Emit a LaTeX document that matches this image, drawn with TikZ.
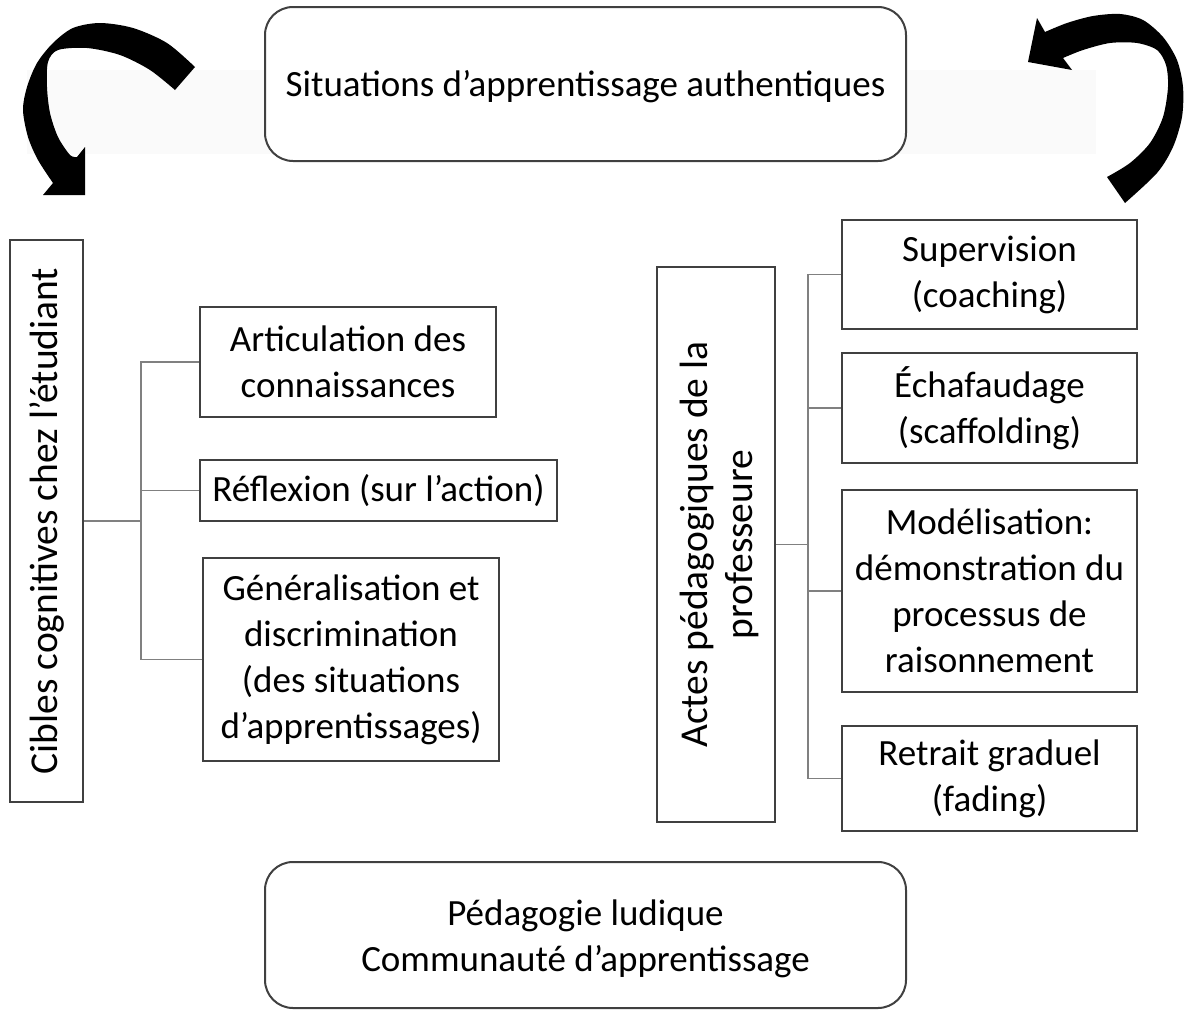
\documentclass[tikz,border=0pt]{standalone}
\usepackage{fontspec}
\setmainfont{Carlito}
\newcommand{\myfs}{\fontsize{37}{46}\selectfont}
\newcommand{\myrfs}{\fontsize{39.5}{45}\selectfont}
\definecolor{boxgray}{HTML}{404040}
\definecolor{linegray}{HTML}{808080}
\definecolor{bandgray}{HTML}{FAFAFA}
\begin{document}
\begin{tikzpicture}[x=1pt,y=-1pt,
  box/.style={draw=boxgray, line width=2pt, fill=white, inner sep=0pt, align=center, font=\myfs},
  rbox/.style={box, rounded corners=28pt},
  conn/.style={draw=linegray, line width=1.6pt},
  rtxt/.style={inner sep=0pt, align=center, font=\myrfs, rotate=90}]
\useasboundingbox (0,0) rectangle (1186,1012);
% faint band
\fill[bandgray] (27,70) rectangle (1096,154);
% curved arrows
\fill[black] plot[smooth] coordinates {(195,67) (167,43) (133,28) (100,23) (73,28) (53,43) (37,63) (27,87) (23,110) (28,137) (38,160) (53,183)}
  -- (43,195) -- (85,195) -- (85,147) -- (77,157)
  -- plot[smooth] coordinates {(77,157) (70,155) (58,137) (50,113) (47,87) (48,62) (58,50) (87,48) (120,55) (150,70) (175,90)} -- cycle;
\fill[black] plot[smooth] coordinates {(1125,203) (1157,173) (1173,147) (1182,117) (1183,87) (1177,60) (1163,37) (1143,20) (1120,14) (1093,16) (1067,23) (1045,32)}
  -- (1037,18) -- (1028,62) -- (1072,70) -- (1063,58)
  -- plot[smooth] coordinates {(1063,58) (1083,50) (1110,43) (1137,43) (1157,50) (1166,65) (1168,87) (1163,117) (1150,143) (1130,163) (1107,177)} -- cycle;
% top and bottom
\node[rbox, minimum width=641pt, minimum height=154pt] (top) at (585.5,84) {\raisebox{-3pt}[\height][\depth]{Situations d’apprentissage authentiques}};
\node[rbox, minimum width=641pt, minimum height=146pt] (bot) at (585.5,935) {\raisebox{-4pt}[\height][\depth]{\begin{tabular}{@{}c@{}}Pédagogie ludique\\Communauté d’apprentissage\end{tabular}}};
% left group
\node[box, minimum width=73pt, minimum height=562pt] (cib) at (46.5,521) {};
\node[rtxt] (cibt) at (cib.center) {Cibles cognitives chez l’étudiant};
\node[box, minimum width=296pt, minimum height=110pt] (art) at (348,362) {Articulation des\\connaissances};
\node[box, minimum width=357pt, minimum height=61pt] (ref) at (378.5,490.5) {Réflexion (sur l’action)};
\node[box, minimum width=296pt, minimum height=203pt] (gen) at (351,659.5) {Généralisation et\\discrimination\\(des situations\\d’apprentissages)};
\coordinate (tl) at (141,521);
\draw[conn] (cib.east) -- (tl |- cib.east);
\draw[conn] (art.west) -| (tl |- cib.east);
\draw[conn] (ref.west) -| (tl |- cib.east);
\draw[conn] (gen.west) -| (tl |- cib.east);
% right group
\node[box, minimum width=118pt, minimum height=555pt] (act) at (716,544.5) {};
\node[rtxt] (actt) at ([xshift=3pt]act.center) {Actes pédagogiques de la\\professeure};
\node[box, minimum width=295pt, minimum height=109pt] (sup) at (989.5,274.5) {Supervision\\(coaching)};
\node[box, minimum width=295pt, minimum height=110pt] (ech) at (989.5,408) {Échafaudage\\(scaffolding)};
\node[box, minimum width=295pt, minimum height=202pt] (mod) at (989.5,591) {Modélisation:\\démonstration du\\processus de\\raisonnement};
\node[box, minimum width=295pt, minimum height=105pt] (ret) at (989.5,778.5) {Retrait graduel\\(fading)};
\coordinate (tr) at (808,544.5);
\draw[conn] (act.east) -- (tr |- act.east);
\draw[conn] (sup.west) -| (tr |- act.east);
\draw[conn] (ech.west) -| (tr |- act.east);
\draw[conn] (mod.west) -| (tr |- act.east);
\draw[conn] (ret.west) -| (tr |- act.east);
\end{tikzpicture}
\end{document}
